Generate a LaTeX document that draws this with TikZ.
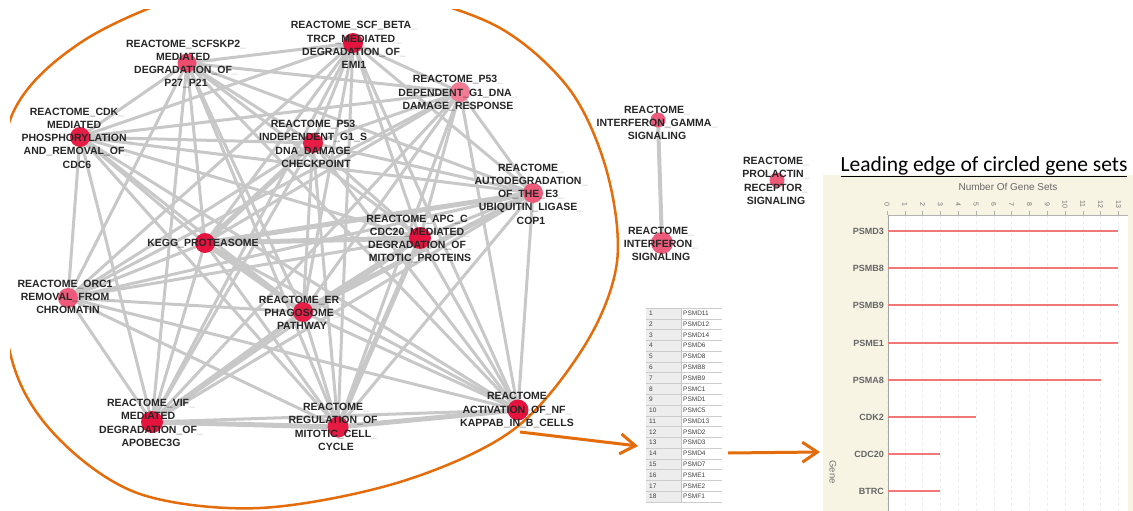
\documentclass[tikz,border=0pt]{standalone}
\usepackage{fontspec}
\setmainfont{Liberation Sans}
\newfontfamily\carl{Carlito}
\usetikzlibrary{arrows.meta}
\definecolor{edgegray}{HTML}{C8C8C8}
\definecolor{orng}{HTML}{E46C0A}
\definecolor{dotred}{HTML}{E5133D}
\definecolor{dotpink}{HTML}{EE5A7A}
\definecolor{beige}{HTML}{F7F4E4}
\definecolor{barred}{HTML}{F07878}
\newcommand{\us}{\textcolor{black!30}{\_}}
\pgfdeclarelayer{bg}
\pgfsetlayers{bg,main}
\begin{document}
\begin{tikzpicture}[x=1pt,y=-1pt,
  edge/.style={draw=edgegray, line width=3pt},
  thk/.style={draw=edgegray, line width=5pt},
  lab/.style={font=\fontsize{10.5}{13.3}\selectfont\bfseries, align=center, inner sep=0pt, text=black!85},
  dotn/.style={circle, inner sep=0pt, draw=none, minimum size=#1},
  arr/.style={draw=orng, line width=3pt, -{Straight Barb[length=15pt,width=20pt]}},
  ticklab/.style={font=\fontsize{7}{8}\selectfont, text=black!55, inner sep=0pt},
  genelab/.style={font=\fontsize{9}{10}\selectfont\bfseries, text=black!60, inner sep=0pt},
  tabtxt/.style={font=\fontsize{6.5}{8}\selectfont, text=black!75, inner sep=0pt, anchor=west}]
\useasboundingbox (0,0) rectangle (1133,511);

% ellipse
\begin{scope}
\clip (10,10) rectangle (700,511);
\draw[orng, line width=2.5pt] plot[smooth cycle, tension=0.55] coordinates {
 (617,262) (585,345) (513,430) (400,482) (260,508) (140,494) (60,440) (14,367)
 (-4,240) (12,115) (80,43) (190,-6) (293,-18) (400,-6) (500,28) (570,90) (607,172)};
\end{scope}

% dots
\node[dotn=19, fill=dotpink!80!dotred] (skp) at (187,63) {};
\node[dotn=20, fill=dotred] (beta) at (353,43) {};
\node[dotn=20, fill=dotred!85!dotpink] (cdk) at (80,137) {};
\node[dotn=20, fill=dotred!85!dotpink] (p53i) at (313,143) {};
\node[dotn=20, fill=dotred] (kegg) at (205,243) {};
\node[dotn=20, fill=dotpink!80!white] (p53d) at (460,92) {};
\node[dotn=20, fill=dotpink] (auto) at (533,193) {};
\node[dotn=22, fill=dotred] (apc) at (420,238) {};
\node[dotn=20, fill=dotpink] (orc) at (68,298) {};
\node[dotn=20, fill=dotred!85!dotpink] (er) at (303,312) {};
\node[dotn=22, fill=dotred] (vif) at (152,422) {};
\node[dotn=21, fill=dotred!90!dotpink] (reg) at (338,427) {};
\node[dotn=21, fill=dotred] (act) at (518,410) {};
\node[dotn=15, fill=dotpink] (ifng) at (658,120) {};
\node[dotn=22, fill=dotpink] (ifn) at (662,243) {};
\node[dotn=15, fill=dotpink] (prl) at (777,180) {};

% edges
\begin{pgfonlayer}{bg}
\foreach \a [count=\i] in {skp,beta,cdk,p53i,kegg,p53d,auto,apc,orc,er,vif,reg,act}{
  \foreach \b [count=\j] in {skp,beta,cdk,p53i,kegg,p53d,auto,apc,orc,er,vif,reg,act}{
    \ifnum\j>\i \draw[edge] (\a.center) -- (\b.center); \fi
  }
}
\foreach \a/\b in {kegg/apc, kegg/er, er/apc, vif/er, reg/apc, er/auto, kegg/p53i, vif/reg, reg/act, kegg/auto}
  \draw[thk] (\a.center) -- (\b.center);
\draw[draw=edgegray, line width=4pt] (ifng.center) -- (ifn.center);
\end{pgfonlayer}

% labels
\node[lab] (lskp) at (186,64) {REACTOME\_SCFSKP2\us\\MEDIATED\us\\DEGRADATION\_OF\us\\P27\_P21};
\node[lab] (lbeta) at (354,45) {REACTOME\_SCF\_BETA\us\\TRCP\_MEDIATED\us\\DEGRADATION\_OF\us\\EMI1};
\node[lab] (lcdk) at (77,138) {REACTOME\_CDK\us\\MEDIATED\us\\PHOSPHORYLATION\us\\AND\_REMOVAL\_OF\us\\CDC6};
\node[lab] (lp53i) at (316,144) {REACTOME\_P53\us\\INDEPENDENT\_G1\_S\us\\DNA\_DAMAGE\us\\CHECKPOINT};
\node[lab] (lkegg) at (203,243) {KEGG\_PROTEASOME};
\node[lab] (lp53d) at (458,93) {REACTOME\_P53\us\\DEPENDENT\_G1\_DNA\us\\DAMAGE\_RESPONSE};
\node[lab] (lauto) at (531,194) {REACTOME\us\\AUTODEGRADATION\us\\OF\_THE\_E3\us\\UBIQUITIN\_LIGASE\us\\COP1};
\node[lab] (lapc) at (420,239) {REACTOME\_APC\_C\us\\CDC20\_MEDIATED\us\\DEGRADATION\_OF\us\\MITOTIC\_PROTEINS};
\node[lab] (lorc) at (68,297) {REACTOME\_ORC1\us\\REMOVAL\_FROM\us\\CHROMATIN};
\node[lab] (ler) at (302,313) {REACTOME\_ER\us\\PHAGOSOME\us\\PATHWAY};
\node[lab] (lvif) at (151,423) {REACTOME\_VIF\us\\MEDIATED\us\\DEGRADATION\_OF\us\\APOBEC3G};
\node[lab] (lreg) at (336,427) {REACTOME\us\\REGULATION\_OF\us\\MITOTIC\_CELL\us\\CYCLE};
\node[lab] (lact) at (517,410) {REACTOME\\ACTIVATION\_OF\_NF\us\\KAPPAB\_IN\_B\_CELLS};
\node[lab] (lifng) at (657,123) {REACTOME\us\\INTERFERON\_GAMMA\us\\SIGNALING};
\node[lab] (lifn) at (661,244) {REACTOME\us\\INTERFERON\us\\SIGNALING};
\node[lab] (lprl) at (776,181) {REACTOME\us\\PROLACTIN\us\\RECEPTOR\us\\SIGNALING};

% table
\fill[gray!14] (646,308) rectangle (681,502);
\draw[gray!45, line width=0.5pt] (681,308) -- (681,502);
\foreach \g [count=\i] in {PSMD11,PSMD12,PSMD14,PSMD6,PSMD8,PSMB8,PSMB9,PSMC1,PSMD1,PSMC5,PSMD13,PSMD2,PSMD3,PSMD4,PSMD7,PSME1,PSME2,PSMF1}{
  \node[tabtxt] (tn\i) at (649,{308+(\i-0.5)*10.78}) {\i};
  \node[tabtxt] (tg\i) at (683,{308+(\i-0.5)*10.78}) {\g};
  \draw[gray!40, line width=0.5pt] (646,{308+\i*10.78}) -- (722,{308+\i*10.78});
}
\draw[gray!40, line width=0.5pt] (646,308) -- (722,308);

% arrows
\coordinate (a1s) at (520,432);
\coordinate (a1e) at (638,446);
\coordinate (a2s) at (728,453);
\coordinate (a2e) at (820,452);
\draw[arr] (a1s) -- (a1e);
\draw[arr] (a2s) -- (a2e);

% chart
\fill[beige] (823,175) rectangle (1133,511);
\node[font=\carl\fontsize{21.5}{24}\selectfont, anchor=base, inner sep=0pt] (title) at (984,171) {\underline{Leading edge of circled gene sets}};
\fill[white] (888,215) rectangle (1128,511);
\foreach \k in {0,...,13}{
  \draw[gray!14, dashed, line width=0.6pt] ({887+17.8*\k},215) -- ({887+17.8*\k},511);
  \draw[gray!60, line width=0.5pt] ({887+17.8*\k},211) -- ({887+17.8*\k},215);
  \node[ticklab, rotate=-90] (tk\k) at ({887+17.8*\k},204) {\k};
}
\draw[gray!60, line width=0.6pt] (888,215) -- (1128,215);
\draw[gray!70, line width=0.8pt] (888,215) -- (888,511);
\node[font=\fontsize{10}{12}\selectfont, text=black!60, inner sep=0pt] (ntitle) at (1008,187) {Number Of Gene Sets};
\foreach \g/\v/\yy in {PSMD3/13/231, PSMB8/13/268, PSMB9/13/305, PSME1/13/343, PSMA8/12/380, CDK2/5/417, CDC20/3/454, BTRC/3/491}{
  \node[genelab, anchor=east] (g\g) at (884,\yy) {\g};
  \draw[barred, line width=1.8pt] (888,\yy) -- ({887+17.8*\v},\yy);
}
\node[font=\fontsize{9.5}{11}\selectfont, text=black!55, rotate=-90, inner sep=0pt] (gene) at (833,472) {Gene};
\end{tikzpicture}
\end{document}
